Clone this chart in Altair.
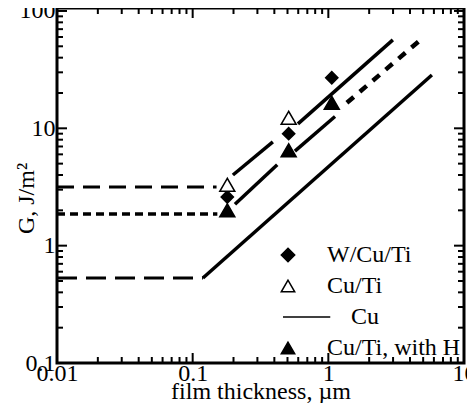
import altair as alt
import pandas as pd

# ---------------- values ----------------
x_major = [0.01, 0.1, 1, 10]
x_minor = [0.02, 0.03, 0.04, 0.05, 0.06, 0.07, 0.08, 0.09,
           0.2, 0.3, 0.4, 0.5, 0.6, 0.7, 0.8, 0.9,
           2, 3, 4, 5, 6, 7, 8, 9]
y_major = [0.1, 1, 10, 100]
y_minor = [0.2, 0.3, 0.4, 0.5, 0.6, 0.7, 0.8, 0.9,
           2, 3, 4, 5, 6, 7, 8, 9,
           20, 30, 40, 50, 60, 70, 80, 90]

# legend entries (the Cu entry is only a line; its label sits further right)
series_names = ["W/Cu/Ti", "Cu/Ti", "\u200b\u00a0\u00a0\u00a0\u00a0Cu", "Cu/Ti, with H"]

wcuti_thick = [0.18, 0.51, 1.06]
wcuti_g = [2.6, 9.0, 27.0]
cuti_thick = [0.18, 0.51]
cuti_g = [3.3, 12.3]
cutih_thick = [0.18, 0.51, 1.06]
cutih_g = [2.0, 6.5, 16.5]

# trend-line segments: start, end and line style
seg_x1 = [0.01, 0.01, 0.01, 0.198, 0.597, 0.205, 0.567, 0.119, 1.37]
seg_g1 = [3.16, 1.86, 0.53, 4.0, 10.9, 2.25, 6.4, 0.53, 16.5]
seg_x2 = [0.15, 0.152, 0.119, 0.39, 2.99, 0.42, 1.12, 5.8, 4.97]
seg_g2 = [3.16, 1.86, 0.53, 7.65, 56.7, 4.9, 12.6, 28.5, 59.0]
seg_style = ["long", "short", "cu", "solid", "solid", "solid", "solid", "solid", "dots"]

# ---------------- tables ----------------
pts = pd.DataFrame({
    "x": wcuti_thick + cuti_thick + cutih_thick,
    "g": wcuti_g + cuti_g + cutih_g,
    "series": ["W/Cu/Ti"] * len(wcuti_thick) + ["Cu/Ti"] * len(cuti_thick)
              + ["Cu/Ti, with H"] * len(cutih_thick),
})
segs = pd.DataFrame({"x": seg_x1, "g": seg_g1, "x2": seg_x2, "g2": seg_g2, "style": seg_style})
xt = pd.DataFrame({"v": x_major + x_minor,
                   "kind": ["major"] * len(x_major) + ["minor"] * len(x_minor)})
yt = pd.DataFrame({"v": y_major + y_minor,
                   "kind": ["major"] * len(y_major) + ["minor"] * len(y_minor)})

FONT = "Liberation Serif"
W, H = 407, 355
xs = alt.Scale(type="log", domain=[0.01, 10], nice=False)
ys = alt.Scale(type="log", domain=[0.1, 106], nice=False)

# axis labels and titles
label_layer = alt.Chart(pts).mark_point(opacity=0).encode(
    x=alt.X("x:Q", scale=xs, axis=alt.Axis(
        orient="bottom", values=x_major, format="~g", ticks=False, domain=False, grid=False,
        labelFont=FONT, labelFontSize=24, labelColor="black", labelPadding=-2,
        labelFlush=False, labelOverlap=False,
        title="film thickness, µm", titleFont=FONT, titleFontSize=24,
        titleFontWeight="normal", titleColor="black", titleY=35,
        titleBaseline="alphabetic")),
    y=alt.Y("g:Q", scale=ys, axis=alt.Axis(
        orient="left", values=y_major, format="~g", ticks=False, domain=False, grid=False,
        labelFont=FONT, labelFontSize=24, labelColor="black", labelPadding=2,
        labelOverlap=False,
        title="G,  J/m²", titleFont=FONT, titleFontSize=24, titleFontWeight="normal",
        titleColor="black", titleAngle=270, titleX=-24, titleY=190,
        titleBaseline="alphabetic", titleAlign="center")),
)

# inward ticks on all four sides
tick_len = {"major": 10, "minor": 6}
tick_layers = []
for kind, ln in tick_len.items():
    xb = alt.Chart(xt).transform_filter(alt.datum.kind == kind).mark_rule(color="black", strokeWidth=2)
    tick_layers.append(xb.encode(x=alt.X("v:Q", scale=xs, axis=None),
                                 y=alt.value(H), y2=alt.value(H - ln)))
    tick_layers.append(xb.encode(x=alt.X("v:Q", scale=xs, axis=None),
                                 y=alt.value(0), y2=alt.value(ln)))
    yb = alt.Chart(yt).transform_filter(alt.datum.kind == kind).mark_rule(color="black", strokeWidth=2)
    tick_layers.append(yb.encode(y=alt.Y("v:Q", scale=ys, axis=None),
                                 x=alt.value(0), x2=alt.value(ln)))
    tick_layers.append(yb.encode(y=alt.Y("v:Q", scale=ys, axis=None),
                                 x=alt.value(W), x2=alt.value(W - ln)))

dash = {"long": [17, 9], "short": [8, 5], "cu": [20, 9], "dots": [9, 8]}
width = {"long": 3, "short": 3.5, "cu": 3, "solid": 3.5, "dots": 4.5}

line_layers = []
for st in ["long", "short", "cu", "solid", "dots"]:
    kw = dict(color="black", strokeWidth=width[st])
    if st in dash:
        kw["strokeDash"] = dash[st]
    line_layers.append(
        alt.Chart(segs).transform_filter(alt.datum.style == st).mark_rule(**kw).encode(
            x=alt.X("x:Q", scale=xs, axis=None), x2="x2:Q",
            y=alt.Y("g:Q", scale=ys, axis=None), y2="g2:Q",
        )
    )

legend = alt.Legend(title=None, orient="none", legendX=219, legendY=235,
                    labelFont=FONT, labelFontSize=24, labelColor="black",
                    symbolSize=180, symbolStrokeWidth=1.5,
                    labelOffset=27, rowPadding=7, padding=0)

enc = dict(
    x=alt.X("x:Q", scale=xs, axis=None),
    y=alt.Y("g:Q", scale=ys, axis=None),
    shape=alt.Shape("series:N", scale=alt.Scale(domain=series_names,
                    range=["diamond", "triangle-up", "M-0.75,0H6.3", "triangle-up"]), legend=legend),
    fill=alt.Fill("series:N", scale=alt.Scale(domain=series_names,
                  range=["black", "white", "black", "black"]), legend=legend),
    stroke=alt.Stroke("series:N", scale=alt.Scale(domain=series_names,
                      range=["black", "black", "black", "black"]), legend=legend),
)
diamonds = alt.Chart(pts).transform_filter(alt.datum.series == "W/Cu/Ti").mark_point(
    filled=True, strokeWidth=1.5, opacity=1, size=150).encode(**enc)
triangles = alt.Chart(pts).transform_filter(alt.datum.series != "W/Cu/Ti").mark_point(
    filled=True, strokeWidth=1.5, opacity=1, size=225).encode(**enc)

chart = alt.layer(
    label_layer, *tick_layers, *line_layers, diamonds, triangles
).resolve_axis(x="independent", y="independent").properties(
    width=W, height=H,
    padding={"left": 49, "top": 0, "right": 3, "bottom": 40},
    autosize=alt.AutoSizeParams(type="none"),
    background="white",
).configure_view(stroke="black", strokeWidth=3)

chart.save("out.html", embed_options={"renderer": "svg", "actions": False})
